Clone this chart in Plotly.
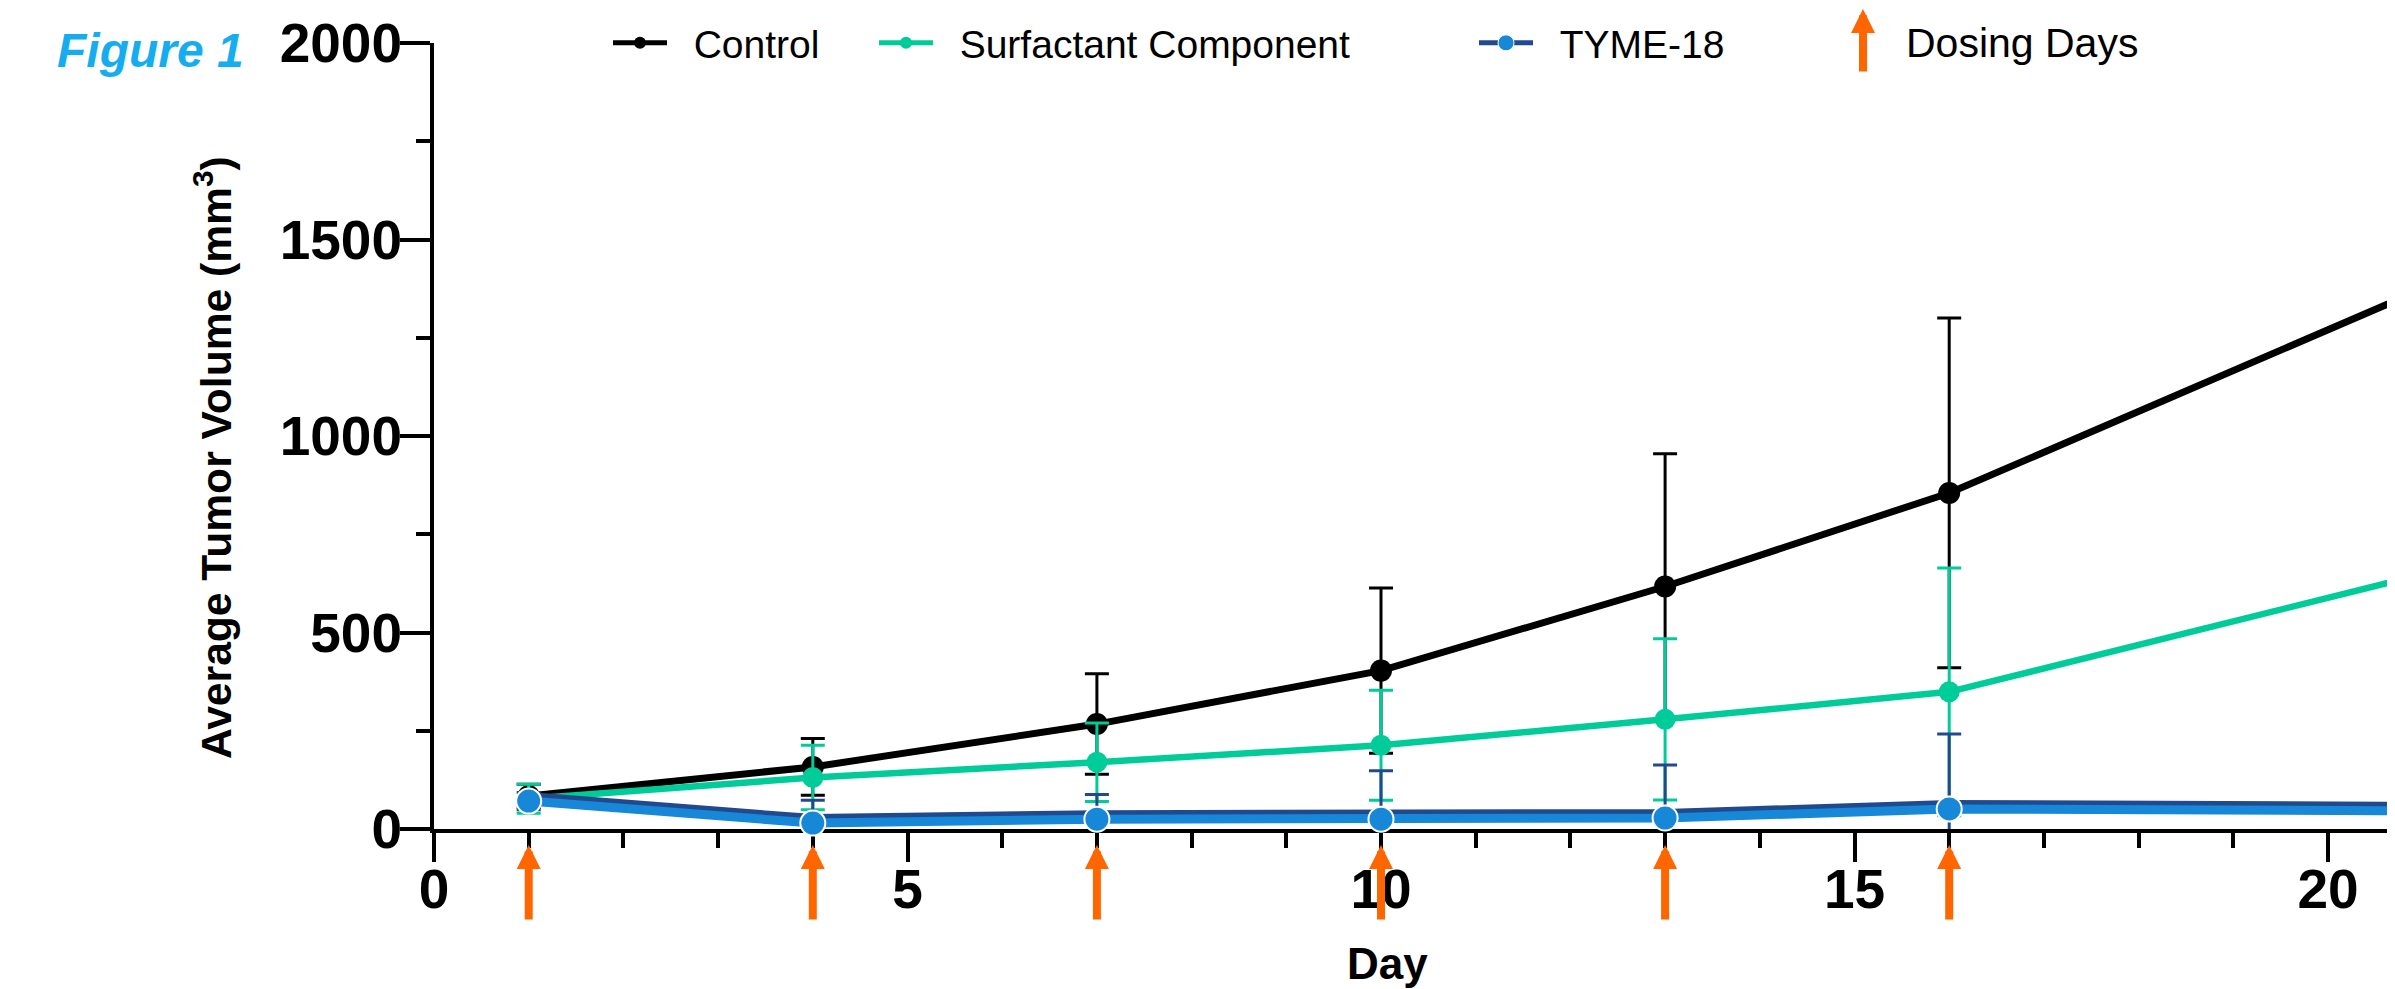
import plotly.graph_objects as go

# ---------------- data ----------------
days = [1, 4, 7, 10, 13, 16, 21]
control_mean = [84, 158, 267, 403, 617, 855, 1374]
control_sd = [30, 72, 128, 210, 338, 445, 520]
surf_mean = [77, 131, 170, 213, 279, 349, 648]
surf_sd = [37, 82, 100, 140, 205, 315, 380]
tyme_mean = [71, 15, 25, 25, 28, 51, 46]
tyme_sd = [22, 58, 63, 123, 135, 191, 200]
dosing_days = [1, 4, 7, 10, 13, 16]
x_ticks = [0, 5, 10, 15, 20]
y_ticks = [0, 500, 1000, 1500, 2000]

# ---------------- style ----------------
FONT = "Liberation Sans, Arial, sans-serif"
BLACK = "#000000"
GREEN = "#00CC99"
LBLUE = "#1787D8"
NAVY = "#214A8E"
ORANGE = "#FF6600"
FIGBLUE = "#15ADEF"
NB = "\u00a0"

VIEW_W, VIEW_H = 2395, 989
OFF = 8                      # default page margin of the html body
W_FIG, H_FIG = VIEW_W - OFF, VIEW_H - OFF
L, T, W, H = 434, 43, 1961, 786   # plot area in viewport pixels
X_MAX = (VIEW_W - L) / 94.7
Y_MAX = 2000
UNIT = H / Y_MAX             # pixels per mm3


def px_x(p):
    return (p - L) / W


def px_y(p):
    return (T + H - p) / H


shift = 4.5 / UNIT           # navy edge drawn above the light-blue line

fig = go.Figure()

fig.add_trace(go.Scatter(
    x=days, y=control_mean, name=NB + NB + "Control", mode="lines+markers",
    line=dict(color=BLACK, width=7), marker=dict(color=BLACK, size=22),
    error_y=dict(type="data", array=control_sd, color=BLACK, thickness=3, width=12),
    cliponaxis=False, legend="legend"))

fig.add_trace(go.Scatter(
    x=days, y=surf_mean, name=NB + NB + "Surfactant Component", mode="lines+markers",
    line=dict(color=GREEN, width=6.5), marker=dict(color=GREEN, size=21),
    error_y=dict(type="data", array=surf_sd, color=GREEN, thickness=3, width=12),
    cliponaxis=False, legend="legend2"))

# dark edge of the TYME-18 line
fig.add_trace(go.Scatter(
    x=days, y=tyme_mean, mode="lines", showlegend=False,
    line=dict(color=NAVY, width=9), yaxis="y2"))

fig.add_trace(go.Scatter(
    x=days, y=tyme_mean, mode="lines+markers", showlegend=False,
    line=dict(color=LBLUE, width=9),
    marker=dict(color=LBLUE, size=25, line=dict(color="white", width=2)),
    error_y=dict(type="data", array=tyme_sd, color=NAVY, thickness=3, width=12),
    cliponaxis=False, yaxis="y3"))

# legend entry for TYME-18
fig.add_trace(go.Scatter(
    x=[None], y=[None], name=NB + NB + "TYME-18", mode="lines+markers",
    line=dict(color=NAVY, width=5),
    marker=dict(color=LBLUE, size=16, line=dict(color="white", width=1)),
    legend="legend3"))

annotations = []
# dosing-day arrows under the x axis
for d in dosing_days:
    annotations.append(dict(
        x=d, xref="x", y=px_y(845), yref="paper", ax=0, ay=76,
        showarrow=True, arrowhead=2, arrowsize=0.6, arrowwidth=8,
        arrowcolor=ORANGE, text="", standoff=0))

# legend: dosing days
annotations.append(dict(
    x=px_x(1863), xref="paper", y=px_y(3), yref="paper", ax=0, ay=70,
    showarrow=True, arrowhead=2, arrowsize=0.6, arrowwidth=8,
    arrowcolor=ORANGE, text="", standoff=0))
annotations.append(dict(
    x=px_x(1904), xref="paper", y=px_y(43), yref="paper", xanchor="left",
    yanchor="middle", showarrow=False, text="Dosing Days",
    font=dict(family=FONT, size=41, color=BLACK)))

# titles
annotations.append(dict(
    x=px_x(1387), xref="paper", y=px_y(963), yref="paper", xanchor="center",
    yanchor="middle", showarrow=False, text="Day",
    font=dict(family=FONT, size=44, color=BLACK, weight="bold")))
annotations.append(dict(
    x=px_x(213), xref="paper", y=px_y(458), yref="paper", xanchor="center",
    yanchor="middle", showarrow=False, textangle=-90,
    text="Average Tumor Volume (mm<sup>3</sup>)",
    font=dict(family=FONT, size=42.6, color=BLACK, weight="bold")))
annotations.append(dict(
    x=px_x(55), xref="paper", y=px_y(50), yref="paper", xanchor="left",
    yanchor="middle", showarrow=False, text="<i>Figure 1</i>",
    font=dict(family=FONT, size=48, color=FIGBLUE, weight="bold")))


def leg(xp, sizing="constant"):
    return dict(x=px_x(xp), y=px_y(43), xanchor="left", yanchor="middle",
                orientation="h", font=dict(family=FONT, size=39, color=BLACK),
                bgcolor="rgba(0,0,0,0)", borderwidth=0, itemwidth=54,
                itemsizing=sizing)


tickfont = dict(family=FONT, size=55, color=BLACK, weight="bold")

fig.update_layout(
    width=W_FIG, height=H_FIG,
    margin=dict(l=L - OFF, r=W_FIG - (L - OFF) - W, t=T - OFF,
                b=H_FIG - (T - OFF) - H, autoexpand=False),
    paper_bgcolor="white", plot_bgcolor="white",
    showlegend=True,
    legend=leg(608), legend2=leg(874), legend3=leg(1474, "trace"),
    xaxis=dict(range=[0, X_MAX], tickvals=x_ticks, showgrid=False, zeroline=False,
               showline=True, linecolor=BLACK, linewidth=4,
               ticks="outside", ticklen=29, tickwidth=4, tickcolor=BLACK,
               minor=dict(dtick=1, ticks="outside", ticklen=15, tickwidth=4,
                          tickcolor=BLACK, showgrid=False),
               tickfont=tickfont, ticklabelstandoff=-20, layer="below traces"),
    yaxis=dict(range=[0, Y_MAX], tickvals=y_ticks, showgrid=False, zeroline=False,
               showline=True, linecolor=BLACK, linewidth=4,
               ticks="outside", ticklen=30, tickwidth=4, tickcolor=BLACK,
               minor=dict(dtick=250, ticks="outside", ticklen=14, tickwidth=4,
                          tickcolor=BLACK, showgrid=False),
               tickfont=tickfont, ticklabelstandoff=-13, layer="below traces"),
    yaxis2=dict(range=[-shift, Y_MAX - shift], overlaying="y", visible=False),
    yaxis3=dict(range=[0, Y_MAX], overlaying="y", visible=False),
    annotations=annotations,
)

fig.write_html("out.html")
